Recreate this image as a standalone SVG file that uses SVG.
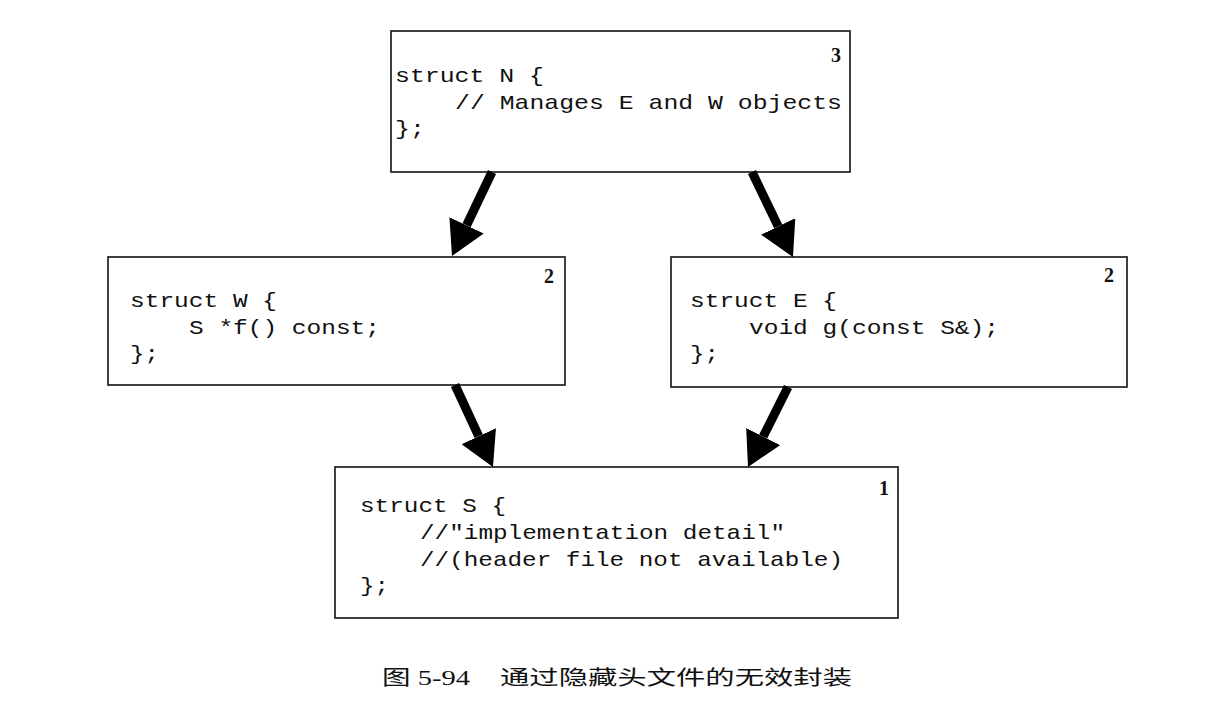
<svg xmlns="http://www.w3.org/2000/svg" width="1222" height="724" viewBox="0 0 1222 724">
<style>
.box{fill:#fff;stroke:#111;stroke-width:1.6}
.code{font-family:"Liberation Mono","DejaVu Sans Mono",monospace;font-size:21px;fill:#111}
.num{font-family:"Liberation Serif","DejaVu Serif",serif;font-size:20px;font-weight:bold;fill:#111;text-anchor:end}
.shaft{stroke:#000;stroke-width:9;fill:none;marker-end:url(#head)}
.cap{font-family:"Liberation Serif","Noto Sans CJK SC",serif;font-size:20px;fill:#111}
</style>
<defs>
<marker id="head" markerUnits="userSpaceOnUse" viewBox="0 0 34 38" refX="0" refY="19" markerWidth="34" markerHeight="38" orient="auto">
<path d="M0,0 L34,19 L0,38 Z" fill="#000"/>
</marker>
</defs>
<rect width="1222" height="724" fill="#fff"/>
<g id="node-N">
<rect class="box" x="391" y="31" width="459" height="141"/>
<text class="num" x="841" y="62">3</text>
<text class="code" x="395" y="82" textLength="149" lengthAdjust="spacingAndGlyphs">struct N {</text>
<text class="code" x="455" y="109" textLength="387" lengthAdjust="spacingAndGlyphs">// Manages E and W objects</text>
<text class="code" x="395" y="135" textLength="30" lengthAdjust="spacingAndGlyphs">};</text>
</g>
<g id="node-W">
<rect class="box" x="108" y="257" width="457" height="128"/>
<text class="num" x="554" y="283">2</text>
<text class="code" x="130" y="307" textLength="147" lengthAdjust="spacingAndGlyphs">struct W {</text>
<text class="code" x="189" y="334" textLength="191" lengthAdjust="spacingAndGlyphs">S *f() const;</text>
<text class="code" x="130" y="360" textLength="29" lengthAdjust="spacingAndGlyphs">};</text>
</g>
<g id="node-E">
<rect class="box" x="671" y="257" width="456" height="130"/>
<text class="num" x="1114" y="282">2</text>
<text class="code" x="690" y="307" textLength="147" lengthAdjust="spacingAndGlyphs">struct E {</text>
<text class="code" x="749" y="334" textLength="250" lengthAdjust="spacingAndGlyphs">void g(const S&amp;);</text>
<text class="code" x="690" y="360" textLength="29" lengthAdjust="spacingAndGlyphs">};</text>
</g>
<g id="node-S">
<rect class="box" x="335" y="467" width="563" height="151"/>
<text class="num" x="889" y="495">1</text>
<text class="code" x="360" y="512" textLength="146" lengthAdjust="spacingAndGlyphs">struct S {</text>
<text class="code" x="420" y="539" textLength="365" lengthAdjust="spacingAndGlyphs">//"implementation detail"</text>
<text class="code" x="420" y="566" textLength="423" lengthAdjust="spacingAndGlyphs">//(header file not available)</text>
<text class="code" x="360" y="592" textLength="29" lengthAdjust="spacingAndGlyphs">};</text>
</g>
<g id="connectors">
<line class="shaft" x1="492" y1="172" x2="466.6" y2="225.3"/>
<line class="shaft" x1="752" y1="172" x2="778.2" y2="226.4"/>
<line class="shaft" x1="455" y1="385" x2="478.7" y2="436.2"/>
<line class="shaft" x1="788" y1="387" x2="763.2" y2="436.6"/>
</g>
<g id="caption">
<text class="cap" x="382" y="685" textLength="88" lengthAdjust="spacingAndGlyphs">图 5-94</text>
<text class="cap" x="500" y="685" textLength="352" lengthAdjust="spacingAndGlyphs">通过隐藏头文件的无效封装</text>
</g>
</svg>
